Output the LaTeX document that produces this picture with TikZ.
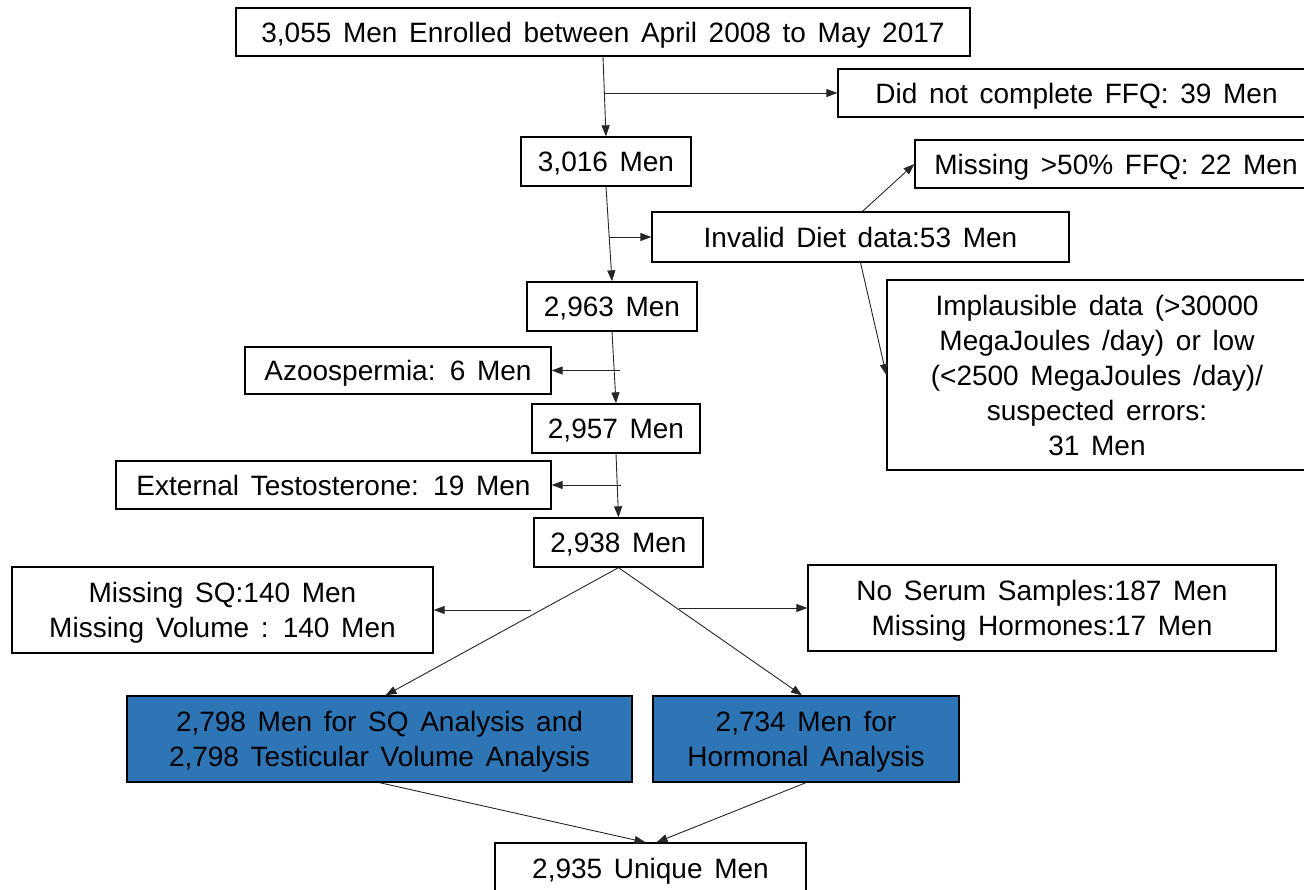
\documentclass[tikz,border=0pt]{standalone}
\usepackage{fontspec}
\setmainfont{Liberation Sans}[WordSpace=1.5]
\usetikzlibrary{arrows.meta}
\definecolor{boxblue}{HTML}{2E75B6}
\tikzset{
  box/.style={draw=black, line width=1.3pt, fill=white, inner sep=0pt, align=center,
    text depth=0pt, font=\fontsize{28}{35}\selectfont},
  bluebox/.style={box, fill=boxblue},
  arr/.style={draw=black!85, line width=0.9pt, -{Triangle[length=11pt,width=8pt]}},
}
\begin{document}
\begin{tikzpicture}[x=1pt,y=-1pt]
\useasboundingbox (0,0) rectangle (1304,890);
% boxes (center, width, height)
\node[box, minimum width=734, minimum height=48] (b0) at (603,32) {3,055 Men Enrolled between April 2008 to May 2017};
\node[box, minimum width=477, minimum height=48] (b1) at (1076.5,93) {Did not complete FFQ: 39 Men};
\node[box, minimum width=170, minimum height=49] (b2) at (606,161.5) {3,016 Men};
\node[box, minimum width=402, minimum height=48] (b3) at (1116,164) {Missing >50\% FFQ: 22 Men};
\node[box, minimum width=417, minimum height=50] (b4) at (860.5,237) {Invalid Diet data:53 Men};
\node[box, minimum width=170, minimum height=49] (b5) at (612,306.5) {2,963 Men};
\node[box, minimum width=420, minimum height=190] (b6) at (1097,375) {Implausible data (>30000\\MegaJoules /day) or low\\(<2500 MegaJoules /day)/\\suspected errors:\\31 Men};
\node[box, minimum width=306, minimum height=47] (b7) at (398,370.5) {Azoospermia: 6 Men};
\node[box, minimum width=168, minimum height=49] (b8) at (616,428.5) {2,957 Men};
\node[box, minimum width=435, minimum height=48] (b9) at (333.5,485) {External Testosterone: 19 Men};
\node[box, minimum width=169, minimum height=49] (b10) at (618.5,542.5) {2,938 Men};
\node[box, minimum width=421, minimum height=86] (b11) at (222.5,610) {Missing SQ:140 Men\\Missing Volume : 140 Men};
\node[box, minimum width=468, minimum height=86] (b12) at (1042,608) {No Serum Samples:187 Men\\Missing Hormones:17 Men};
\node[bluebox, minimum width=505, minimum height=86] (b13) at (379.5,739) {2,798 Men for SQ Analysis and\\2,798 Testicular Volume Analysis};
\node[bluebox, minimum width=306, minimum height=86] (b14) at (806,739) {2,734 Men for\\Hormonal Analysis};
\node[box, minimum width=311, minimum height=50] (b15) at (650.5,868) {2,935 Unique Men};
% free branch starts
\coordinate (c11) at (531,610);
\coordinate (c12) at (679,608);
% connectors
\draw[arr] (b0.south) -- (b2.north);
\draw[arr] ([xshift=1pt]b0.south |- b1.west) -- (b1.west);
\draw[arr] (b2.south) -- (b5.north);
\draw[arr] ([xshift=3pt]b2.south |- b4.west) -- (b4.west);
\draw[arr] ([xshift=2pt]b4.north) -- (b3.west);
\draw[arr] (b4.south) -- (b6.west);
\draw[arr] (b5.south) -- (b8.north);
\draw[arr] ([xshift=8pt]b5.south |- b7.east) -- (b7.east);
\draw[arr] (b8.south) -- (b10.north);
\draw[arr] ([xshift=5pt]b8.south |- b9.east) -- (b9.east);
\draw[arr] (b10.south) -- ([xshift=6pt]b13.north);
\draw[arr] (b10.south) -- ([xshift=-4pt]b14.north);
\draw[arr] (c11) -- (b11.east);
\draw[arr] (c12) -- (b12.west);
\draw[arr] (b13.south) -- ([xshift=-5pt]b15.north);
\draw[arr] (b14.south) -- ([xshift=6pt]b15.north);
\end{tikzpicture}
\end{document}
